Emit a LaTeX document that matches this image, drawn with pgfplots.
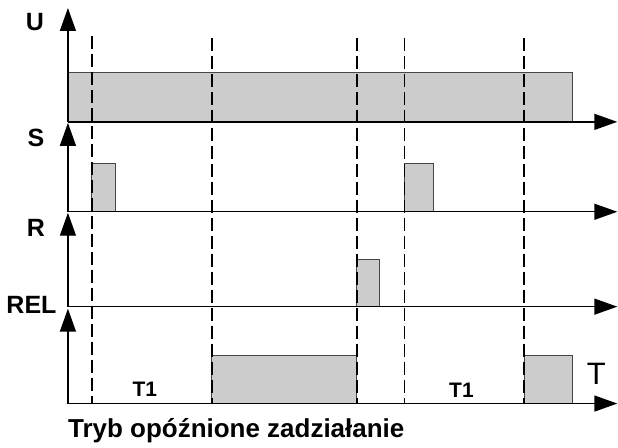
\documentclass[border=0pt]{standalone}
\usepackage{pgfplots}
\pgfplotsset{compat=1.18}
\usepackage{fontspec}
\setmainfont{Liberation Sans}
\usetikzlibrary{arrows.meta}
\definecolor{barfill}{RGB}{204,204,204}
\definecolor{baredge}{RGB}{70,70,70}
\begin{document}
\begin{tikzpicture}
\begin{axis}[
  width=618pt, height=448pt, scale only axis,
  xmin=0, xmax=618, ymin=0, ymax=448, y dir=reverse,
  hide axis, clip=false,
  axisline/.style={black, line width=1.4pt},
  arr/.style={axisline, -{Triangle[length=23pt,width=16pt]}},
  bar/.style={fill=barfill, draw=baredge, line width=0.9pt},
  dsh/.style={black, line width=1.9pt, dash pattern=on 13pt off 5pt},
]
\path (axis cs:0,0) rectangle (axis cs:618,448);
% bars
\addplot[bar] coordinates {(68,122) (68,73) (573,73) (573,122)} -- cycle;   % U
\addplot[bar] coordinates {(92,212) (92,164) (116,164) (116,212)} -- cycle; % S
\addplot[bar] coordinates {(405,212) (405,164) (434,164) (434,212)} -- cycle;
\addplot[bar] coordinates {(357,307) (357,260) (380,260) (380,307)} -- cycle; % R
\addplot[bar] coordinates {(212,404) (212,356) (357,356) (357,404)} -- cycle; % REL
\addplot[bar] coordinates {(525,404) (525,356) (573,356) (573,404)} -- cycle;
% dashed markers
\addplot[dsh] coordinates {(92,36) (92,404)};
\addplot[dsh] coordinates {(212,38) (212,404)};
\addplot[dsh] coordinates {(357,38) (357,404)};
\addplot[dsh] coordinates {(405,38) (405,404)};
\addplot[dsh] coordinates {(525,38) (525,404)};
% axes
\addplot[arr] coordinates {(68,122) (68,8)};
\addplot[arr] coordinates {(68,212) (68,123)};
\addplot[arr] coordinates {(68,307) (68,213)};
\addplot[arr] coordinates {(68,404) (68,309)};
\addplot[arr] coordinates {(68,122) (618,122)};
\addplot[arr] coordinates {(68,212) (618,212)};
\addplot[arr] coordinates {(68,307) (618,307)};
\addplot[arr] coordinates {(68,404) (618,404)};
% labels
\node[font=\bfseries\fontsize{25}{29}\selectfont] at (axis cs:35,22) {U};
\node[font=\bfseries\fontsize{25}{29}\selectfont] at (axis cs:36,138) {S};
\node[font=\bfseries\fontsize{25}{29}\selectfont] at (axis cs:36,228) {R};
\node[font=\bfseries\fontsize{25}{29}\selectfont] at (axis cs:31.5,305) {REL};
\node[font=\fontsize{31}{35}\selectfont] at (axis cs:597,374) {T};
\node[font=\bfseries\fontsize{21}{25}\selectfont] at (axis cs:145,390) {T1};
\node[font=\bfseries\fontsize{21}{25}\selectfont] at (axis cs:462,391) {T1};
\node[anchor=base west, inner sep=0pt, font=\bfseries\fontsize{26}{30}\selectfont] at (axis cs:68,438) {Tryb opóźnione zadziałanie};
\end{axis}
\end{tikzpicture}
\end{document}
